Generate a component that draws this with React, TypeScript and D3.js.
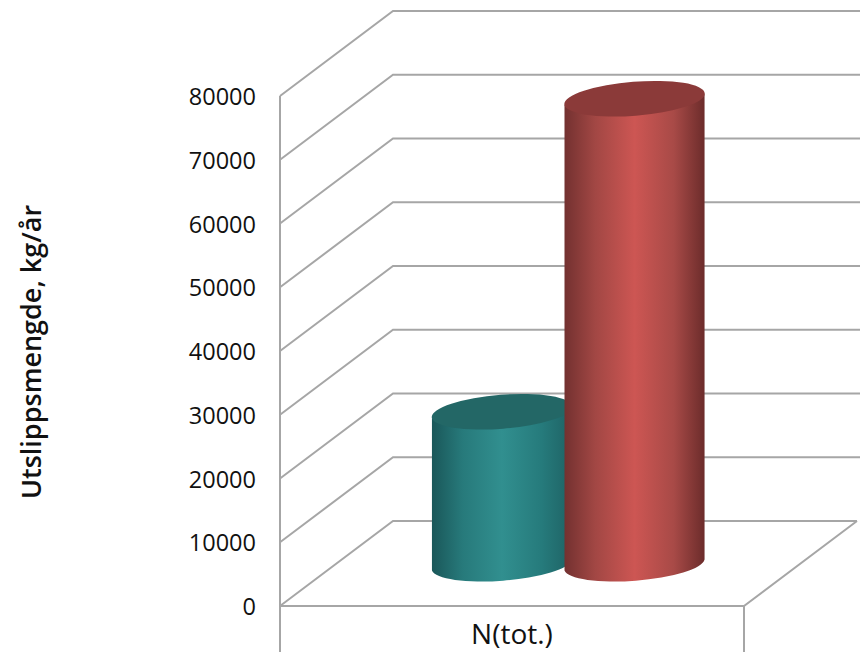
import React from "react";
import * as d3 from "d3";

const categories = ["Serie 1", "Serie 2"];
const values = [23800, 72900];
const ticks = [0, 10000, 20000, 30000, 40000, 50000, 60000, 70000, 80000];
const categoryLabel = "N(tot.)";
const yTitle = "Utslippsmengde, kg/år";
const faces = ["#236766", "#8b3a39"];
const gradients = [
  ["#1a5759", "#277a7b", "#318f8f", "#267b7c", "#1e6264"],
  ["#733130", "#a24744", "#cd5653", "#a84a47", "#6c2c2b"],
];

const W = 868, H = 652;
const FONT = "'Open Sans', sans-serif";
const GRID = "#a6a6a6";
const dx = 113, dy = 85;
const x0 = 280, x1 = 744;
const y = d3.scaleLinear().domain([0, 80000]).range([606, 96]);
const x = d3.scaleBand<string>().domain(categories).range([x0 + dx / 2, x0 + dx / 2 + 456]).paddingInner(0).paddingOuter(0.72);

export default function App() {
  const step = x.step();
  const barW = step + 7.5;
  const rx = barW / 2 + 0.4;
  const ry = 17;
  const tilt = -4.5;
  const slope = 5.5;
  const grid = d3.line<[number, number]>();
  return (
    <svg width={W} height={H} viewBox={`0 0 ${W} ${H}`} style={{ position: "absolute", left: 0, top: 0, background: "#fff" }} fontFamily={FONT}>
      <defs>
        {gradients.map((g, i) => (
          <linearGradient key={i} id={`g${i}`} x1="0" x2="1" y1="0" y2="0">
            {g.map((c, j) => <stop key={j} offset={`${[0, 22, 50, 78, 100][j]}%`} stopColor={c} />)}
          </linearGradient>
        ))}
      </defs>
      {ticks.map((t) => (
        <g key={t}>
          <path d={grid([[x0, y(t)], [x0 + dx, y(t) - dy], [t === 0 ? x1 + dx : 860, y(t) - dy]]) ?? ""} fill="none" stroke={GRID} strokeWidth={2} />
          <text x={256} y={y(t) + 9} textAnchor="end" fontSize={23.5} fill="#111">{t}</text>
        </g>
      ))}
      <path d={grid([[x0, y(80000)], [x0, H]]) ?? ""} fill="none" stroke={GRID} strokeWidth={2} />
      <path d={grid([[x0, 606], [x1, 606], [x1 + dx, 606 - dy]]) ?? ""} fill="none" stroke={GRID} strokeWidth={2} />
      <path d={grid([[x1, 606], [x1, H]]) ?? ""} fill="none" stroke={GRID} strokeWidth={2} />
      {categories.map((c, i) => {
        const left = x(c)!;
        const right = left + barW;
        const cx = (left + right) / 2;
        const topY = y(values[i]) - dy / 2;
        const baseY = y(0) - dy / 2 + 1.5;
        const body = `M${left},${topY + slope} L${left},${baseY + slope} A${rx},${ry} ${tilt} 0 0 ${right},${baseY - slope} L${right},${topY - slope} A${rx},${ry} ${tilt} 0 1 ${left},${topY + slope} Z`;
        return (
          <g key={c}>
            <path d={body} fill={`url(#g${i})`} />
            <ellipse cx={cx} cy={topY} rx={rx} ry={ry} transform={`rotate(${tilt} ${cx} ${topY})`} fill={faces[i]} />
          </g>
        );
      })}
      <text x={512} y={644} textAnchor="middle" fontSize={28} fill="#111">{categoryLabel}</text>
      <text transform="translate(41,352) rotate(-90)" textAnchor="middle" fontSize={27} fontWeight={600} fill="#111">{yTitle}</text>
    </svg>
  );
}
